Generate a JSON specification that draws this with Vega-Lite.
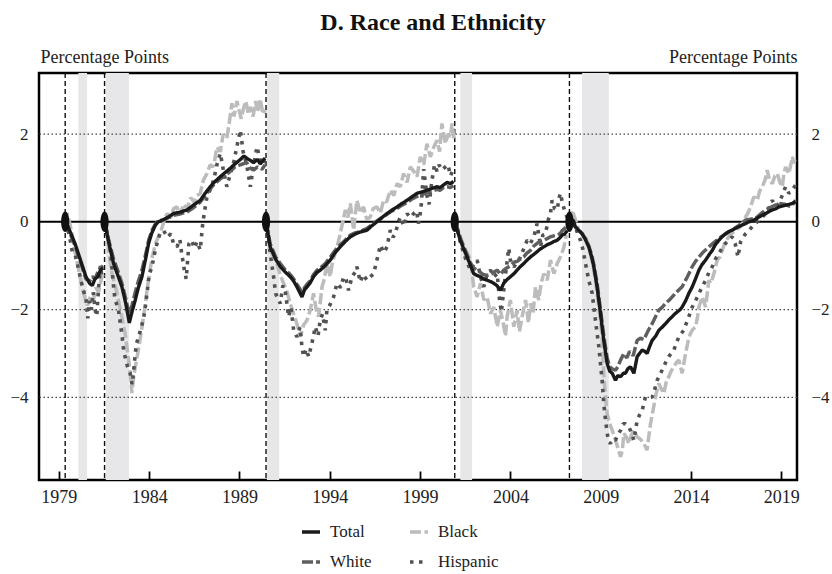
{
"$schema": "https://vega.github.io/schema/vega-lite/v6.json",
"width": 758, "height": 407,
"autosize": {"type": "none"},
"padding": {"left": 39, "top": 73, "right": 35, "bottom": 94},
"title": {"text": "D. Race and Ethnicity", "fontSize": 24, "fontWeight": "bold", "font": "Liberation Serif", "color": "#111", "anchor": "middle", "offset": 13, "dx": 15},
"config": {"font": "Liberation Serif", "view": {"stroke": "#000", "strokeWidth": 2.5},
 "axis": {"labelFont": "Liberation Serif", "titleFont": "Liberation Serif"},
 "axisX": {"ticks": true, "tickSize": -9, "tickWidth": 1.8, "tickColor": "#000", "labelPadding": 17, "zindex": 1},
 "legend": {"labelFont": "Liberation Serif", "titleFont": "Liberation Serif"}},
"datasets": {
"rec": [{"t":1980.08,"t2":1980.56},{"t":1981.6,"t2":1982.88},{"t":1990.52,"t2":1991.2},{"t":2001.23,"t2":2001.88},{"t":2007.97,"t2":2009.45}],
"peaks": [{"t":1979.35},{"t":1981.53},{"t":1990.47},{"t":2000.92},{"t":2007.27}],
"grid": [{"v":-4},{"v":-2},{"v":2}],
"zero": [{"v":0}],
"series": [
{"s":"Black","c":1,"t":1979.35,"v":0},{"s":"Black","c":1,"t":1979.45,"v":0.2},{"s":"Black","c":1,"t":1979.55,"v":0.05},{"s":"Black","c":1,"t":1979.7,"v":-0.2},{"s":"Black","c":1,"t":1979.85,"v":-0.6},{"s":"Black","c":1,"t":1980.0,"v":-0.9},{"s":"Black","c":1,"t":1980.15,"v":-1.2},{"s":"Black","c":1,"t":1980.3,"v":-1.5},{"s":"Black","c":1,"t":1980.45,"v":-1.75},{"s":"Black","c":1,"t":1980.6,"v":-1.9},{"s":"Black","c":1,"t":1980.75,"v":-1.7},{"s":"Black","c":1,"t":1980.9,"v":-1.8},{"s":"Black","c":1,"t":1981.05,"v":-1.5},{"s":"Black","c":1,"t":1981.2,"v":-1.6},{"s":"Black","c":1,"t":1981.35,"v":-1.3},{"s":"Black","c":1,"t":1981.45,"v":-1.2},
{"s":"Black","c":2,"t":1981.53,"v":0},{"s":"Black","c":2,"t":1981.6,"v":0.1},{"s":"Black","c":2,"t":1981.75,"v":-0.64},{"s":"Black","c":2,"t":1981.95,"v":-1.2},{"s":"Black","c":2,"t":1982.15,"v":-1.5},{"s":"Black","c":2,"t":1982.3,"v":-1.8},{"s":"Black","c":2,"t":1982.5,"v":-2.2},{"s":"Black","c":2,"t":1982.67,"v":-2.55},{"s":"Black","c":2,"t":1982.85,"v":-3.1},{"s":"Black","c":2,"t":1982.95,"v":-3.45},{"s":"Black","c":2,"t":1983.04,"v":-3.9},{"s":"Black","c":2,"t":1983.15,"v":-3.5},{"s":"Black","c":2,"t":1983.32,"v":-3.1},{"s":"Black","c":2,"t":1983.45,"v":-2.8},{"s":"Black","c":2,"t":1983.6,"v":-2.4},{"s":"Black","c":2,"t":1983.75,"v":-2.0},{"s":"Black","c":2,"t":1983.9,"v":-1.5},{"s":"Black","c":2,"t":1984.05,"v":-1.1},{"s":"Black","c":2,"t":1984.15,"v":-0.83},{"s":"Black","c":2,"t":1984.35,"v":-0.5},{"s":"Black","c":2,"t":1984.55,"v":-0.3},{"s":"Black","c":2,"t":1984.7,"v":-0.15},{"s":"Black","c":2,"t":1984.85,"v":0.05},{"s":"Black","c":2,"t":1985.0,"v":0.19},{"s":"Black","c":2,"t":1985.2,"v":0.1},{"s":"Black","c":2,"t":1985.35,"v":0.3},{"s":"Black","c":2,"t":1985.54,"v":0.34},{"s":"Black","c":2,"t":1985.7,"v":0.15},{"s":"Black","c":2,"t":1985.9,"v":0.4},{"s":"Black","c":2,"t":1986.1,"v":0.3},{"s":"Black","c":2,"t":1986.3,"v":0.55},{"s":"Black","c":2,"t":1986.5,"v":0.45},{"s":"Black","c":2,"t":1986.65,"v":0.6},{"s":"Black","c":2,"t":1986.83,"v":0.65},{"s":"Black","c":2,"t":1987.0,"v":0.95},{"s":"Black","c":2,"t":1987.2,"v":1.1},{"s":"Black","c":2,"t":1987.38,"v":1.3},{"s":"Black","c":2,"t":1987.57,"v":1.26},{"s":"Black","c":2,"t":1987.75,"v":1.7},{"s":"Black","c":2,"t":1987.94,"v":1.6},{"s":"Black","c":2,"t":1988.1,"v":2.0},{"s":"Black","c":2,"t":1988.3,"v":1.9},{"s":"Black","c":2,"t":1988.45,"v":2.3},{"s":"Black","c":2,"t":1988.58,"v":2.7},{"s":"Black","c":2,"t":1988.7,"v":2.4},{"s":"Black","c":2,"t":1988.86,"v":2.75},{"s":"Black","c":2,"t":1989.0,"v":2.5},{"s":"Black","c":2,"t":1989.1,"v":2.35},{"s":"Black","c":2,"t":1989.23,"v":2.6},{"s":"Black","c":2,"t":1989.35,"v":2.75},{"s":"Black","c":2,"t":1989.5,"v":2.45},{"s":"Black","c":2,"t":1989.6,"v":2.62},{"s":"Black","c":2,"t":1989.75,"v":2.4},{"s":"Black","c":2,"t":1989.9,"v":2.75},{"s":"Black","c":2,"t":1990.0,"v":2.5},{"s":"Black","c":2,"t":1990.15,"v":2.8},{"s":"Black","c":2,"t":1990.3,"v":2.45},{"s":"Black","c":2,"t":1990.42,"v":2.55},
{"s":"Black","c":3,"t":1990.47,"v":0},{"s":"Black","c":3,"t":1990.55,"v":-0.1},{"s":"Black","c":3,"t":1990.7,"v":-0.65},{"s":"Black","c":3,"t":1990.9,"v":-0.8},{"s":"Black","c":3,"t":1991.07,"v":-0.95},{"s":"Black","c":3,"t":1991.25,"v":-1.2},{"s":"Black","c":3,"t":1991.44,"v":-1.4},{"s":"Black","c":3,"t":1991.6,"v":-1.55},{"s":"Black","c":3,"t":1991.81,"v":-1.86},{"s":"Black","c":3,"t":1992.0,"v":-2.1},{"s":"Black","c":3,"t":1992.18,"v":-2.32},{"s":"Black","c":3,"t":1992.37,"v":-2.62},{"s":"Black","c":3,"t":1992.55,"v":-2.35},{"s":"Black","c":3,"t":1992.74,"v":-2.24},{"s":"Black","c":3,"t":1992.92,"v":-2.01},{"s":"Black","c":3,"t":1993.1,"v":-1.63},{"s":"Black","c":3,"t":1993.25,"v":-2.0},{"s":"Black","c":3,"t":1993.38,"v":-2.16},{"s":"Black","c":3,"t":1993.57,"v":-1.48},{"s":"Black","c":3,"t":1993.7,"v":-1.3},{"s":"Black","c":3,"t":1993.84,"v":-0.95},{"s":"Black","c":3,"t":1994.03,"v":-1.25},{"s":"Black","c":3,"t":1994.15,"v":-0.9},{"s":"Black","c":3,"t":1994.3,"v":-0.72},{"s":"Black","c":3,"t":1994.45,"v":-0.5},{"s":"Black","c":3,"t":1994.58,"v":-0.27},{"s":"Black","c":3,"t":1994.72,"v":0.0},{"s":"Black","c":3,"t":1994.86,"v":0.27},{"s":"Black","c":3,"t":1995.0,"v":0.1},{"s":"Black","c":3,"t":1995.14,"v":0.42},{"s":"Black","c":3,"t":1995.32,"v":-0.19},{"s":"Black","c":3,"t":1995.5,"v":0.49},{"s":"Black","c":3,"t":1995.7,"v":0.2},{"s":"Black","c":3,"t":1995.87,"v":0.34},{"s":"Black","c":3,"t":1996.05,"v":0.05},{"s":"Black","c":3,"t":1996.24,"v":0.11},{"s":"Black","c":3,"t":1996.4,"v":0.3},{"s":"Black","c":3,"t":1996.61,"v":0.34},{"s":"Black","c":3,"t":1996.8,"v":0.2},{"s":"Black","c":3,"t":1996.98,"v":0.49},{"s":"Black","c":3,"t":1997.15,"v":0.45},{"s":"Black","c":3,"t":1997.35,"v":0.72},{"s":"Black","c":3,"t":1997.55,"v":0.6},{"s":"Black","c":3,"t":1997.72,"v":0.87},{"s":"Black","c":3,"t":1997.9,"v":0.8},{"s":"Black","c":3,"t":1998.09,"v":1.1},{"s":"Black","c":3,"t":1998.28,"v":0.9},{"s":"Black","c":3,"t":1998.46,"v":1.25},{"s":"Black","c":3,"t":1998.65,"v":1.15},{"s":"Black","c":3,"t":1998.83,"v":1.03},{"s":"Black","c":3,"t":1999.01,"v":1.48},{"s":"Black","c":3,"t":1999.2,"v":1.3},{"s":"Black","c":3,"t":1999.38,"v":1.78},{"s":"Black","c":3,"t":1999.57,"v":1.48},{"s":"Black","c":3,"t":1999.75,"v":1.7},{"s":"Black","c":3,"t":1999.94,"v":1.86},{"s":"Black","c":3,"t":2000.08,"v":1.6},{"s":"Black","c":3,"t":2000.21,"v":2.24},{"s":"Black","c":3,"t":2000.4,"v":1.78},{"s":"Black","c":3,"t":2000.55,"v":2.0},{"s":"Black","c":3,"t":2000.68,"v":1.94},{"s":"Black","c":3,"t":2000.77,"v":2.24},{"s":"Black","c":3,"t":2000.88,"v":1.9},
{"s":"Black","c":4,"t":2000.92,"v":0},{"s":"Black","c":4,"t":2001.05,"v":-0.1},{"s":"Black","c":4,"t":2001.2,"v":-0.3},{"s":"Black","c":4,"t":2001.42,"v":-0.57},{"s":"Black","c":4,"t":2001.6,"v":-0.7},{"s":"Black","c":4,"t":2001.79,"v":-0.87},{"s":"Black","c":4,"t":2001.97,"v":-1.48},{"s":"Black","c":4,"t":2002.16,"v":-1.71},{"s":"Black","c":4,"t":2002.34,"v":-1.4},{"s":"Black","c":4,"t":2002.53,"v":-1.78},{"s":"Black","c":4,"t":2002.71,"v":-1.71},{"s":"Black","c":4,"t":2002.9,"v":-2.09},{"s":"Black","c":4,"t":2003.08,"v":-1.94},{"s":"Black","c":4,"t":2003.27,"v":-2.39},{"s":"Black","c":4,"t":2003.45,"v":-2.01},{"s":"Black","c":4,"t":2003.6,"v":-2.3},{"s":"Black","c":4,"t":2003.73,"v":-2.6},{"s":"Black","c":4,"t":2003.82,"v":-2.16},{"s":"Black","c":4,"t":2004.0,"v":-1.78},{"s":"Black","c":4,"t":2004.19,"v":-2.39},{"s":"Black","c":4,"t":2004.37,"v":-2.01},{"s":"Black","c":4,"t":2004.5,"v":-2.5},{"s":"Black","c":4,"t":2004.65,"v":-2.16},{"s":"Black","c":4,"t":2004.84,"v":-1.78},{"s":"Black","c":4,"t":2005.0,"v":-2.3},{"s":"Black","c":4,"t":2005.11,"v":-1.86},{"s":"Black","c":4,"t":2005.25,"v":-2.1},{"s":"Black","c":4,"t":2005.39,"v":-1.48},{"s":"Black","c":4,"t":2005.57,"v":-1.78},{"s":"Black","c":4,"t":2005.7,"v":-1.4},{"s":"Black","c":4,"t":2005.85,"v":-1.18},{"s":"Black","c":4,"t":2006.04,"v":-1.33},{"s":"Black","c":4,"t":2006.22,"v":-0.87},{"s":"Black","c":4,"t":2006.41,"v":-1.18},{"s":"Black","c":4,"t":2006.59,"v":-0.95},{"s":"Black","c":4,"t":2006.77,"v":-0.8},{"s":"Black","c":4,"t":2006.95,"v":-0.6},{"s":"Black","c":4,"t":2007.1,"v":-0.3},
{"s":"Black","c":5,"t":2007.27,"v":0},{"s":"Black","c":5,"t":2007.42,"v":0.27},{"s":"Black","c":5,"t":2007.6,"v":0.05},{"s":"Black","c":5,"t":2007.79,"v":-0.19},{"s":"Black","c":5,"t":2007.95,"v":-0.25},{"s":"Black","c":5,"t":2008.16,"v":-0.34},{"s":"Black","c":5,"t":2008.3,"v":-0.5},{"s":"Black","c":5,"t":2008.43,"v":-0.72},{"s":"Black","c":5,"t":2008.58,"v":-1.0},{"s":"Black","c":5,"t":2008.71,"v":-1.33},{"s":"Black","c":5,"t":2008.9,"v":-1.94},{"s":"Black","c":5,"t":2009.08,"v":-2.62},{"s":"Black","c":5,"t":2009.17,"v":-3.45},{"s":"Black","c":5,"t":2009.27,"v":-4.0},{"s":"Black","c":5,"t":2009.36,"v":-4.37},{"s":"Black","c":5,"t":2009.5,"v":-4.6},{"s":"Black","c":5,"t":2009.64,"v":-4.75},{"s":"Black","c":5,"t":2009.82,"v":-4.97},{"s":"Black","c":5,"t":2009.95,"v":-5.15},{"s":"Black","c":5,"t":2010.1,"v":-5.35},{"s":"Black","c":5,"t":2010.2,"v":-5.2},{"s":"Black","c":5,"t":2010.28,"v":-4.82},{"s":"Black","c":5,"t":2010.42,"v":-4.9},{"s":"Black","c":5,"t":2010.56,"v":-5.05},{"s":"Black","c":5,"t":2010.7,"v":-4.85},{"s":"Black","c":5,"t":2010.84,"v":-4.75},{"s":"Black","c":5,"t":2011.02,"v":-4.9},{"s":"Black","c":5,"t":2011.2,"v":-4.95},{"s":"Black","c":5,"t":2011.39,"v":-5.05},{"s":"Black","c":5,"t":2011.57,"v":-5.2},{"s":"Black","c":5,"t":2011.66,"v":-4.9},{"s":"Black","c":5,"t":2011.76,"v":-4.6},{"s":"Black","c":5,"t":2011.94,"v":-4.2},{"s":"Black","c":5,"t":2012.08,"v":-3.9},{"s":"Black","c":5,"t":2012.22,"v":-3.68},{"s":"Black","c":5,"t":2012.35,"v":-3.8},{"s":"Black","c":5,"t":2012.5,"v":-3.91},{"s":"Black","c":5,"t":2012.65,"v":-3.6},{"s":"Black","c":5,"t":2012.77,"v":-3.53},{"s":"Black","c":5,"t":2012.9,"v":-3.4},{"s":"Black","c":5,"t":2013.05,"v":-3.3},{"s":"Black","c":5,"t":2013.2,"v":-3.2},{"s":"Black","c":5,"t":2013.33,"v":-3.15},{"s":"Black","c":5,"t":2013.51,"v":-3.45},{"s":"Black","c":5,"t":2013.7,"v":-3.0},{"s":"Black","c":5,"t":2013.85,"v":-2.7},{"s":"Black","c":5,"t":2013.97,"v":-2.54},{"s":"Black","c":5,"t":2014.1,"v":-2.45},{"s":"Black","c":5,"t":2014.25,"v":-2.39},{"s":"Black","c":5,"t":2014.35,"v":-2.2},{"s":"Black","c":5,"t":2014.44,"v":-1.94},{"s":"Black","c":5,"t":2014.62,"v":-1.71},{"s":"Black","c":5,"t":2014.81,"v":-1.94},{"s":"Black","c":5,"t":2014.99,"v":-1.33},{"s":"Black","c":5,"t":2015.1,"v":-1.4},{"s":"Black","c":5,"t":2015.27,"v":-1.18},{"s":"Black","c":5,"t":2015.45,"v":-0.87},{"s":"Black","c":5,"t":2015.6,"v":-0.8},{"s":"Black","c":5,"t":2015.73,"v":-0.65},{"s":"Black","c":5,"t":2015.9,"v":-0.45},{"s":"Black","c":5,"t":2016.1,"v":-0.34},{"s":"Black","c":5,"t":2016.3,"v":-0.25},{"s":"Black","c":5,"t":2016.47,"v":-0.19},{"s":"Black","c":5,"t":2016.6,"v":-0.15},{"s":"Black","c":5,"t":2016.74,"v":-0.11},{"s":"Black","c":5,"t":2016.9,"v":0.0},{"s":"Black","c":5,"t":2017.02,"v":0.11},{"s":"Black","c":5,"t":2017.15,"v":0.2},{"s":"Black","c":5,"t":2017.3,"v":0.34},{"s":"Black","c":5,"t":2017.48,"v":0.57},{"s":"Black","c":5,"t":2017.67,"v":0.49},{"s":"Black","c":5,"t":2017.8,"v":0.7},{"s":"Black","c":5,"t":2017.95,"v":0.8},{"s":"Black","c":5,"t":2018.1,"v":0.95},{"s":"Black","c":5,"t":2018.22,"v":1.18},{"s":"Black","c":5,"t":2018.35,"v":0.95},{"s":"Black","c":5,"t":2018.5,"v":0.87},{"s":"Black","c":5,"t":2018.65,"v":1.05},{"s":"Black","c":5,"t":2018.78,"v":1.1},{"s":"Black","c":5,"t":2018.92,"v":0.9},{"s":"Black","c":5,"t":2019.05,"v":0.8},{"s":"Black","c":5,"t":2019.15,"v":1.1},{"s":"Black","c":5,"t":2019.24,"v":1.25},{"s":"Black","c":5,"t":2019.42,"v":1.1},{"s":"Black","c":5,"t":2019.55,"v":1.35},{"s":"Black","c":5,"t":2019.61,"v":1.48},{"s":"Black","c":5,"t":2019.7,"v":1.33},{"s":"Black","c":5,"t":2019.8,"v":1.5},
{"s":"Hispanic","c":1,"t":1979.35,"v":0},{"s":"Hispanic","c":1,"t":1979.45,"v":-0.1},{"s":"Hispanic","c":1,"t":1979.6,"v":-0.35},{"s":"Hispanic","c":1,"t":1979.75,"v":-0.7},{"s":"Hispanic","c":1,"t":1979.9,"v":-0.75},{"s":"Hispanic","c":1,"t":1980.05,"v":-1.0},{"s":"Hispanic","c":1,"t":1980.2,"v":-1.3},{"s":"Hispanic","c":1,"t":1980.35,"v":-1.55},{"s":"Hispanic","c":1,"t":1980.5,"v":-1.75},{"s":"Hispanic","c":1,"t":1980.6,"v":-2.2},{"s":"Hispanic","c":1,"t":1980.7,"v":-1.8},{"s":"Hispanic","c":1,"t":1980.8,"v":-2.0},{"s":"Hispanic","c":1,"t":1980.9,"v":-1.6},{"s":"Hispanic","c":1,"t":1981.0,"v":-2.0},{"s":"Hispanic","c":1,"t":1981.1,"v":-2.15},{"s":"Hispanic","c":1,"t":1981.2,"v":-1.5},{"s":"Hispanic","c":1,"t":1981.3,"v":-1.0},{"s":"Hispanic","c":1,"t":1981.4,"v":-1.3},
{"s":"Hispanic","c":2,"t":1981.53,"v":0},{"s":"Hispanic","c":2,"t":1981.6,"v":-0.11},{"s":"Hispanic","c":2,"t":1981.85,"v":-0.64},{"s":"Hispanic","c":2,"t":1982.03,"v":-1.48},{"s":"Hispanic","c":2,"t":1982.1,"v":-1.75},{"s":"Hispanic","c":2,"t":1982.3,"v":-2.0},{"s":"Hispanic","c":2,"t":1982.5,"v":-2.6},{"s":"Hispanic","c":2,"t":1982.6,"v":-2.96},{"s":"Hispanic","c":2,"t":1982.8,"v":-3.3},{"s":"Hispanic","c":2,"t":1982.95,"v":-3.45},{"s":"Hispanic","c":2,"t":1983.05,"v":-3.7},{"s":"Hispanic","c":2,"t":1983.13,"v":-3.45},{"s":"Hispanic","c":2,"t":1983.23,"v":-3.0},{"s":"Hispanic","c":2,"t":1983.3,"v":-2.77},{"s":"Hispanic","c":2,"t":1983.5,"v":-2.5},{"s":"Hispanic","c":2,"t":1983.69,"v":-2.2},{"s":"Hispanic","c":2,"t":1983.8,"v":-1.9},{"s":"Hispanic","c":2,"t":1983.9,"v":-1.55},{"s":"Hispanic","c":2,"t":1984.0,"v":-1.2},{"s":"Hispanic","c":2,"t":1984.15,"v":-1.03},{"s":"Hispanic","c":2,"t":1984.34,"v":-0.64},{"s":"Hispanic","c":2,"t":1984.5,"v":-0.4},{"s":"Hispanic","c":2,"t":1984.6,"v":-0.27},{"s":"Hispanic","c":2,"t":1984.8,"v":-0.2},{"s":"Hispanic","c":2,"t":1985.0,"v":-0.35},{"s":"Hispanic","c":2,"t":1985.2,"v":-0.27},{"s":"Hispanic","c":2,"t":1985.35,"v":-0.5},{"s":"Hispanic","c":2,"t":1985.54,"v":-0.57},{"s":"Hispanic","c":2,"t":1985.7,"v":-0.4},{"s":"Hispanic","c":2,"t":1985.8,"v":-0.72},{"s":"Hispanic","c":2,"t":1985.95,"v":-1.1},{"s":"Hispanic","c":2,"t":1986.05,"v":-1.3},{"s":"Hispanic","c":2,"t":1986.2,"v":-0.5},{"s":"Hispanic","c":2,"t":1986.35,"v":-0.42},{"s":"Hispanic","c":2,"t":1986.5,"v":-0.6},{"s":"Hispanic","c":2,"t":1986.65,"v":-0.45},{"s":"Hispanic","c":2,"t":1986.83,"v":-0.64},{"s":"Hispanic","c":2,"t":1986.95,"v":-0.1},{"s":"Hispanic","c":2,"t":1987.05,"v":0.2},{"s":"Hispanic","c":2,"t":1987.2,"v":0.57},{"s":"Hispanic","c":2,"t":1987.4,"v":0.75},{"s":"Hispanic","c":2,"t":1987.57,"v":0.95},{"s":"Hispanic","c":2,"t":1987.75,"v":1.3},{"s":"Hispanic","c":2,"t":1987.94,"v":1.56},{"s":"Hispanic","c":2,"t":1988.1,"v":1.2},{"s":"Hispanic","c":2,"t":1988.3,"v":0.8},{"s":"Hispanic","c":2,"t":1988.5,"v":1.1},{"s":"Hispanic","c":2,"t":1988.67,"v":1.33},{"s":"Hispanic","c":2,"t":1988.85,"v":1.7},{"s":"Hispanic","c":2,"t":1989.05,"v":2.09},{"s":"Hispanic","c":2,"t":1989.2,"v":1.6},{"s":"Hispanic","c":2,"t":1989.4,"v":1.3},{"s":"Hispanic","c":2,"t":1989.6,"v":0.8},{"s":"Hispanic","c":2,"t":1989.75,"v":1.2},{"s":"Hispanic","c":2,"t":1989.97,"v":1.71},{"s":"Hispanic","c":2,"t":1990.15,"v":1.4},{"s":"Hispanic","c":2,"t":1990.3,"v":1.3},{"s":"Hispanic","c":2,"t":1990.42,"v":1.5},
{"s":"Hispanic","c":3,"t":1990.47,"v":0},{"s":"Hispanic","c":3,"t":1990.55,"v":-0.2},{"s":"Hispanic","c":3,"t":1990.7,"v":-0.72},{"s":"Hispanic","c":3,"t":1990.89,"v":-1.25},{"s":"Hispanic","c":3,"t":1991.0,"v":-1.63},{"s":"Hispanic","c":3,"t":1991.26,"v":-1.86},{"s":"Hispanic","c":3,"t":1991.4,"v":-1.45},{"s":"Hispanic","c":3,"t":1991.53,"v":-1.56},{"s":"Hispanic","c":3,"t":1991.72,"v":-2.16},{"s":"Hispanic","c":3,"t":1991.85,"v":-1.95},{"s":"Hispanic","c":3,"t":1992.0,"v":-2.47},{"s":"Hispanic","c":3,"t":1992.18,"v":-2.62},{"s":"Hispanic","c":3,"t":1992.35,"v":-2.4},{"s":"Hispanic","c":3,"t":1992.46,"v":-2.85},{"s":"Hispanic","c":3,"t":1992.55,"v":-3.07},{"s":"Hispanic","c":3,"t":1992.7,"v":-2.9},{"s":"Hispanic","c":3,"t":1992.83,"v":-3.07},{"s":"Hispanic","c":3,"t":1993.01,"v":-2.77},{"s":"Hispanic","c":3,"t":1993.2,"v":-2.39},{"s":"Hispanic","c":3,"t":1993.35,"v":-2.6},{"s":"Hispanic","c":3,"t":1993.47,"v":-2.24},{"s":"Hispanic","c":3,"t":1993.6,"v":-2.1},{"s":"Hispanic","c":3,"t":1993.75,"v":-2.47},{"s":"Hispanic","c":3,"t":1993.84,"v":-2.01},{"s":"Hispanic","c":3,"t":1994.0,"v":-1.9},{"s":"Hispanic","c":3,"t":1994.21,"v":-1.71},{"s":"Hispanic","c":3,"t":1994.4,"v":-1.4},{"s":"Hispanic","c":3,"t":1994.6,"v":-1.5},{"s":"Hispanic","c":3,"t":1994.77,"v":-1.25},{"s":"Hispanic","c":3,"t":1994.9,"v":-1.3},{"s":"Hispanic","c":3,"t":1995.04,"v":-1.56},{"s":"Hispanic","c":3,"t":1995.23,"v":-1.25},{"s":"Hispanic","c":3,"t":1995.4,"v":-1.15},{"s":"Hispanic","c":3,"t":1995.5,"v":-1.02},{"s":"Hispanic","c":3,"t":1995.69,"v":-1.37},{"s":"Hispanic","c":3,"t":1995.85,"v":-1.2},{"s":"Hispanic","c":3,"t":1996.06,"v":-1.33},{"s":"Hispanic","c":3,"t":1996.25,"v":-1.25},{"s":"Hispanic","c":3,"t":1996.43,"v":-1.18},{"s":"Hispanic","c":3,"t":1996.61,"v":-0.87},{"s":"Hispanic","c":3,"t":1996.8,"v":-0.53},{"s":"Hispanic","c":3,"t":1997.0,"v":-0.7},{"s":"Hispanic","c":3,"t":1997.17,"v":-0.57},{"s":"Hispanic","c":3,"t":1997.35,"v":-0.19},{"s":"Hispanic","c":3,"t":1997.5,"v":-0.35},{"s":"Hispanic","c":3,"t":1997.63,"v":-0.27},{"s":"Hispanic","c":3,"t":1997.8,"v":0.0},{"s":"Hispanic","c":3,"t":1997.91,"v":0.11},{"s":"Hispanic","c":3,"t":1998.1,"v":-0.1},{"s":"Hispanic","c":3,"t":1998.28,"v":0.19},{"s":"Hispanic","c":3,"t":1998.45,"v":0.1},{"s":"Hispanic","c":3,"t":1998.65,"v":0.19},{"s":"Hispanic","c":3,"t":1998.8,"v":0.25},{"s":"Hispanic","c":3,"t":1998.92,"v":-0.04},{"s":"Hispanic","c":3,"t":1999.05,"v":0.3},{"s":"Hispanic","c":3,"t":1999.2,"v":1.2},{"s":"Hispanic","c":3,"t":1999.38,"v":0.6},{"s":"Hispanic","c":3,"t":1999.5,"v":0.4},{"s":"Hispanic","c":3,"t":1999.66,"v":0.95},{"s":"Hispanic","c":3,"t":1999.8,"v":1.3},{"s":"Hispanic","c":3,"t":1999.94,"v":1.15},{"s":"Hispanic","c":3,"t":2000.05,"v":1.3},{"s":"Hispanic","c":3,"t":2000.21,"v":1.18},{"s":"Hispanic","c":3,"t":2000.4,"v":1.25},{"s":"Hispanic","c":3,"t":2000.55,"v":1.3},{"s":"Hispanic","c":3,"t":2000.68,"v":1.05},{"s":"Hispanic","c":3,"t":2000.85,"v":1.2},
{"s":"Hispanic","c":4,"t":2000.92,"v":0},{"s":"Hispanic","c":4,"t":2001.05,"v":-0.1},{"s":"Hispanic","c":4,"t":2001.2,"v":-0.42},{"s":"Hispanic","c":4,"t":2001.42,"v":-0.72},{"s":"Hispanic","c":4,"t":2001.55,"v":-0.87},{"s":"Hispanic","c":4,"t":2001.79,"v":-1.1},{"s":"Hispanic","c":4,"t":2002.0,"v":-0.95},{"s":"Hispanic","c":4,"t":2002.16,"v":-0.87},{"s":"Hispanic","c":4,"t":2002.34,"v":-1.25},{"s":"Hispanic","c":4,"t":2002.53,"v":-1.48},{"s":"Hispanic","c":4,"t":2002.7,"v":-1.2},{"s":"Hispanic","c":4,"t":2002.9,"v":-1.1},{"s":"Hispanic","c":4,"t":2003.1,"v":-1.25},{"s":"Hispanic","c":4,"t":2003.27,"v":-1.18},{"s":"Hispanic","c":4,"t":2003.4,"v":-1.78},{"s":"Hispanic","c":4,"t":2003.5,"v":-2.05},{"s":"Hispanic","c":4,"t":2003.7,"v":-1.3},{"s":"Hispanic","c":4,"t":2003.91,"v":-0.6},{"s":"Hispanic","c":4,"t":2004.0,"v":-0.87},{"s":"Hispanic","c":4,"t":2004.19,"v":-1.03},{"s":"Hispanic","c":4,"t":2004.4,"v":-0.9},{"s":"Hispanic","c":4,"t":2004.56,"v":-0.8},{"s":"Hispanic","c":4,"t":2004.75,"v":-0.6},{"s":"Hispanic","c":4,"t":2004.93,"v":-0.42},{"s":"Hispanic","c":4,"t":2005.1,"v":-0.5},{"s":"Hispanic","c":4,"t":2005.3,"v":-0.34},{"s":"Hispanic","c":4,"t":2005.48,"v":-0.04},{"s":"Hispanic","c":4,"t":2005.67,"v":-0.57},{"s":"Hispanic","c":4,"t":2005.8,"v":-0.3},{"s":"Hispanic","c":4,"t":2005.94,"v":-0.27},{"s":"Hispanic","c":4,"t":2006.1,"v":0.05},{"s":"Hispanic","c":4,"t":2006.22,"v":0.19},{"s":"Hispanic","c":4,"t":2006.31,"v":0.49},{"s":"Hispanic","c":4,"t":2006.45,"v":0.3},{"s":"Hispanic","c":4,"t":2006.59,"v":0.27},{"s":"Hispanic","c":4,"t":2006.7,"v":0.55},{"s":"Hispanic","c":4,"t":2006.77,"v":0.65},{"s":"Hispanic","c":4,"t":2006.9,"v":0.4},{"s":"Hispanic","c":4,"t":2007.05,"v":0.19},{"s":"Hispanic","c":4,"t":2007.15,"v":0.1},
{"s":"Hispanic","c":5,"t":2007.27,"v":0},{"s":"Hispanic","c":5,"t":2007.45,"v":0.1},{"s":"Hispanic","c":5,"t":2007.6,"v":-0.11},{"s":"Hispanic","c":5,"t":2007.75,"v":-0.3},{"s":"Hispanic","c":5,"t":2007.88,"v":-0.42},{"s":"Hispanic","c":5,"t":2008.0,"v":-0.6},{"s":"Hispanic","c":5,"t":2008.16,"v":-0.95},{"s":"Hispanic","c":5,"t":2008.34,"v":-1.33},{"s":"Hispanic","c":5,"t":2008.53,"v":-1.63},{"s":"Hispanic","c":5,"t":2008.71,"v":-2.24},{"s":"Hispanic","c":5,"t":2008.9,"v":-2.85},{"s":"Hispanic","c":5,"t":2009.08,"v":-3.61},{"s":"Hispanic","c":5,"t":2009.17,"v":-4.14},{"s":"Hispanic","c":5,"t":2009.27,"v":-4.52},{"s":"Hispanic","c":5,"t":2009.36,"v":-4.82},{"s":"Hispanic","c":5,"t":2009.45,"v":-5.0},{"s":"Hispanic","c":5,"t":2009.54,"v":-5.05},{"s":"Hispanic","c":5,"t":2009.65,"v":-4.95},{"s":"Hispanic","c":5,"t":2009.82,"v":-4.97},{"s":"Hispanic","c":5,"t":2009.95,"v":-4.85},{"s":"Hispanic","c":5,"t":2010.1,"v":-4.75},{"s":"Hispanic","c":5,"t":2010.25,"v":-4.6},{"s":"Hispanic","c":5,"t":2010.37,"v":-4.6},{"s":"Hispanic","c":5,"t":2010.56,"v":-4.67},{"s":"Hispanic","c":5,"t":2010.7,"v":-4.8},{"s":"Hispanic","c":5,"t":2010.84,"v":-4.97},{"s":"Hispanic","c":5,"t":2011.02,"v":-4.52},{"s":"Hispanic","c":5,"t":2011.15,"v":-4.4},{"s":"Hispanic","c":5,"t":2011.3,"v":-4.29},{"s":"Hispanic","c":5,"t":2011.48,"v":-3.99},{"s":"Hispanic","c":5,"t":2011.65,"v":-4.0},{"s":"Hispanic","c":5,"t":2011.85,"v":-3.99},{"s":"Hispanic","c":5,"t":2012.0,"v":-3.8},{"s":"Hispanic","c":5,"t":2012.13,"v":-3.61},{"s":"Hispanic","c":5,"t":2012.25,"v":-3.5},{"s":"Hispanic","c":5,"t":2012.4,"v":-3.38},{"s":"Hispanic","c":5,"t":2012.6,"v":-3.2},{"s":"Hispanic","c":5,"t":2012.77,"v":-3.07},{"s":"Hispanic","c":5,"t":2012.9,"v":-3.0},{"s":"Hispanic","c":5,"t":2013.05,"v":-2.92},{"s":"Hispanic","c":5,"t":2013.2,"v":-2.75},{"s":"Hispanic","c":5,"t":2013.33,"v":-2.62},{"s":"Hispanic","c":5,"t":2013.45,"v":-2.55},{"s":"Hispanic","c":5,"t":2013.6,"v":-2.47},{"s":"Hispanic","c":5,"t":2013.75,"v":-2.3},{"s":"Hispanic","c":5,"t":2013.88,"v":-2.16},{"s":"Hispanic","c":5,"t":2014.07,"v":-1.94},{"s":"Hispanic","c":5,"t":2014.25,"v":-1.8},{"s":"Hispanic","c":5,"t":2014.44,"v":-1.63},{"s":"Hispanic","c":5,"t":2014.6,"v":-1.5},{"s":"Hispanic","c":5,"t":2014.81,"v":-1.33},{"s":"Hispanic","c":5,"t":2015.0,"v":-1.15},{"s":"Hispanic","c":5,"t":2015.18,"v":-1.02},{"s":"Hispanic","c":5,"t":2015.35,"v":-0.85},{"s":"Hispanic","c":5,"t":2015.54,"v":-0.72},{"s":"Hispanic","c":5,"t":2015.72,"v":-0.6},{"s":"Hispanic","c":5,"t":2015.91,"v":-0.49},{"s":"Hispanic","c":5,"t":2016.1,"v":-0.42},{"s":"Hispanic","c":5,"t":2016.28,"v":-0.34},{"s":"Hispanic","c":5,"t":2016.45,"v":-0.5},{"s":"Hispanic","c":5,"t":2016.6,"v":-0.8},{"s":"Hispanic","c":5,"t":2016.75,"v":-0.45},{"s":"Hispanic","c":5,"t":2017.02,"v":-0.27},{"s":"Hispanic","c":5,"t":2017.2,"v":-0.2},{"s":"Hispanic","c":5,"t":2017.39,"v":-0.11},{"s":"Hispanic","c":5,"t":2017.55,"v":-0.05},{"s":"Hispanic","c":5,"t":2017.76,"v":0.04},{"s":"Hispanic","c":5,"t":2017.95,"v":0.1},{"s":"Hispanic","c":5,"t":2018.13,"v":0.19},{"s":"Hispanic","c":5,"t":2018.3,"v":0.3},{"s":"Hispanic","c":5,"t":2018.5,"v":0.49},{"s":"Hispanic","c":5,"t":2018.7,"v":0.35},{"s":"Hispanic","c":5,"t":2018.87,"v":0.42},{"s":"Hispanic","c":5,"t":2019.05,"v":0.6},{"s":"Hispanic","c":5,"t":2019.24,"v":0.8},{"s":"Hispanic","c":5,"t":2019.42,"v":0.65},{"s":"Hispanic","c":5,"t":2019.61,"v":0.72},{"s":"Hispanic","c":5,"t":2019.79,"v":0.84},
{"s":"White","c":1,"t":1979.35,"v":0},{"s":"White","c":1,"t":1979.5,"v":-0.15},{"s":"White","c":1,"t":1979.7,"v":-0.35},{"s":"White","c":1,"t":1979.9,"v":-0.55},{"s":"White","c":1,"t":1980.1,"v":-0.8},{"s":"White","c":1,"t":1980.3,"v":-1.05},{"s":"White","c":1,"t":1980.5,"v":-1.3},{"s":"White","c":1,"t":1980.7,"v":-1.35},{"s":"White","c":1,"t":1980.85,"v":-1.25},{"s":"White","c":1,"t":1981.0,"v":-1.3},{"s":"White","c":1,"t":1981.15,"v":-1.15},{"s":"White","c":1,"t":1981.3,"v":-1.05},{"s":"White","c":1,"t":1981.45,"v":-1.0},
{"s":"White","c":2,"t":1981.53,"v":0},{"s":"White","c":2,"t":1981.75,"v":-0.4},{"s":"White","c":2,"t":1982.03,"v":-0.85},{"s":"White","c":2,"t":1982.25,"v":-1.1},{"s":"White","c":2,"t":1982.49,"v":-1.4},{"s":"White","c":2,"t":1982.7,"v":-1.75},{"s":"White","c":2,"t":1982.9,"v":-2.1},{"s":"White","c":2,"t":1983.05,"v":-1.9},{"s":"White","c":2,"t":1983.23,"v":-1.6},{"s":"White","c":2,"t":1983.4,"v":-1.35},{"s":"White","c":2,"t":1983.6,"v":-1.1},{"s":"White","c":2,"t":1983.8,"v":-0.75},{"s":"White","c":2,"t":1983.97,"v":-0.42},{"s":"White","c":2,"t":1984.15,"v":-0.2},{"s":"White","c":2,"t":1984.34,"v":-0.05},{"s":"White","c":2,"t":1984.5,"v":0.02},{"s":"White","c":2,"t":1984.8,"v":0.05},{"s":"White","c":2,"t":1985.1,"v":0.1},{"s":"White","c":2,"t":1985.35,"v":0.15},{"s":"White","c":2,"t":1985.7,"v":0.18},{"s":"White","c":2,"t":1986.09,"v":0.22},{"s":"White","c":2,"t":1986.45,"v":0.32},{"s":"White","c":2,"t":1986.83,"v":0.45},{"s":"White","c":2,"t":1987.1,"v":0.6},{"s":"White","c":2,"t":1987.38,"v":0.75},{"s":"White","c":2,"t":1987.65,"v":0.88},{"s":"White","c":2,"t":1987.94,"v":0.98},{"s":"White","c":2,"t":1988.2,"v":1.05},{"s":"White","c":2,"t":1988.49,"v":1.15},{"s":"White","c":2,"t":1988.75,"v":1.25},{"s":"White","c":2,"t":1989.05,"v":1.3},{"s":"White","c":2,"t":1989.4,"v":1.35},{"s":"White","c":2,"t":1989.6,"v":1.22},{"s":"White","c":2,"t":1989.78,"v":1.18},{"s":"White","c":2,"t":1990.0,"v":1.25},{"s":"White","c":2,"t":1990.25,"v":1.2},{"s":"White","c":2,"t":1990.42,"v":1.3},
{"s":"White","c":3,"t":1990.47,"v":0},{"s":"White","c":3,"t":1990.7,"v":-0.5},{"s":"White","c":3,"t":1991.0,"v":-0.8},{"s":"White","c":3,"t":1991.26,"v":-0.95},{"s":"White","c":3,"t":1991.55,"v":-1.1},{"s":"White","c":3,"t":1991.81,"v":-1.2},{"s":"White","c":3,"t":1992.0,"v":-1.3},{"s":"White","c":3,"t":1992.18,"v":-1.42},{"s":"White","c":3,"t":1992.46,"v":-1.6},{"s":"White","c":3,"t":1992.6,"v":-1.5},{"s":"White","c":3,"t":1992.74,"v":-1.42},{"s":"White","c":3,"t":1992.9,"v":-1.35},{"s":"White","c":3,"t":1993.1,"v":-1.2},{"s":"White","c":3,"t":1993.3,"v":-1.1},{"s":"White","c":3,"t":1993.47,"v":-1.05},{"s":"White","c":3,"t":1993.75,"v":-0.95},{"s":"White","c":3,"t":1994.03,"v":-0.8},{"s":"White","c":3,"t":1994.3,"v":-0.65},{"s":"White","c":3,"t":1994.58,"v":-0.52},{"s":"White","c":3,"t":1994.85,"v":-0.42},{"s":"White","c":3,"t":1995.14,"v":-0.3},{"s":"White","c":3,"t":1995.4,"v":-0.25},{"s":"White","c":3,"t":1995.69,"v":-0.22},{"s":"White","c":3,"t":1996.06,"v":-0.15},{"s":"White","c":3,"t":1996.3,"v":-0.08},{"s":"White","c":3,"t":1996.61,"v":0.02},{"s":"White","c":3,"t":1996.9,"v":0.1},{"s":"White","c":3,"t":1997.17,"v":0.17},{"s":"White","c":3,"t":1997.45,"v":0.25},{"s":"White","c":3,"t":1997.72,"v":0.3},{"s":"White","c":3,"t":1998.0,"v":0.38},{"s":"White","c":3,"t":1998.28,"v":0.44},{"s":"White","c":3,"t":1998.55,"v":0.52},{"s":"White","c":3,"t":1998.83,"v":0.58},{"s":"White","c":3,"t":1999.1,"v":0.62},{"s":"White","c":3,"t":1999.38,"v":0.66},{"s":"White","c":3,"t":1999.65,"v":0.7},{"s":"White","c":3,"t":1999.94,"v":0.74},{"s":"White","c":3,"t":2000.1,"v":0.72},{"s":"White","c":3,"t":2000.3,"v":0.78},{"s":"White","c":3,"t":2000.5,"v":0.8},{"s":"White","c":3,"t":2000.68,"v":0.78},{"s":"White","c":3,"t":2000.85,"v":0.82},
{"s":"White","c":4,"t":2000.92,"v":0},{"s":"White","c":4,"t":2001.1,"v":-0.2},{"s":"White","c":4,"t":2001.23,"v":-0.38},{"s":"White","c":4,"t":2001.4,"v":-0.55},{"s":"White","c":4,"t":2001.6,"v":-0.75},{"s":"White","c":4,"t":2001.8,"v":-0.95},{"s":"White","c":4,"t":2001.97,"v":-1.05},{"s":"White","c":4,"t":2002.15,"v":-1.1},{"s":"White","c":4,"t":2002.34,"v":-1.15},{"s":"White","c":4,"t":2002.5,"v":-1.2},{"s":"White","c":4,"t":2002.71,"v":-1.22},{"s":"White","c":4,"t":2002.9,"v":-1.2},{"s":"White","c":4,"t":2003.08,"v":-1.15},{"s":"White","c":4,"t":2003.27,"v":-1.1},{"s":"White","c":4,"t":2003.45,"v":-1.2},{"s":"White","c":4,"t":2003.63,"v":-1.1},{"s":"White","c":4,"t":2003.8,"v":-1.05},{"s":"White","c":4,"t":2004.0,"v":-1.0},{"s":"White","c":4,"t":2004.2,"v":-0.92},{"s":"White","c":4,"t":2004.37,"v":-0.9},{"s":"White","c":4,"t":2004.55,"v":-0.85},{"s":"White","c":4,"t":2004.74,"v":-0.8},{"s":"White","c":4,"t":2004.9,"v":-0.72},{"s":"White","c":4,"t":2005.11,"v":-0.65},{"s":"White","c":4,"t":2005.3,"v":-0.55},{"s":"White","c":4,"t":2005.48,"v":-0.49},{"s":"White","c":4,"t":2005.65,"v":-0.45},{"s":"White","c":4,"t":2005.85,"v":-0.42},{"s":"White","c":4,"t":2006.05,"v":-0.38},{"s":"White","c":4,"t":2006.22,"v":-0.34},{"s":"White","c":4,"t":2006.4,"v":-0.32},{"s":"White","c":4,"t":2006.59,"v":-0.3},{"s":"White","c":4,"t":2006.75,"v":-0.27},{"s":"White","c":4,"t":2006.87,"v":-0.2},{"s":"White","c":4,"t":2007.0,"v":-0.15},{"s":"White","c":4,"t":2007.15,"v":-0.1},
{"s":"White","c":5,"t":2007.27,"v":0},{"s":"White","c":5,"t":2007.45,"v":-0.05},{"s":"White","c":5,"t":2007.6,"v":-0.12},{"s":"White","c":5,"t":2007.8,"v":-0.2},{"s":"White","c":5,"t":2007.97,"v":-0.27},{"s":"White","c":5,"t":2008.15,"v":-0.38},{"s":"White","c":5,"t":2008.34,"v":-0.55},{"s":"White","c":5,"t":2008.5,"v":-0.75},{"s":"White","c":5,"t":2008.62,"v":-0.98},{"s":"White","c":5,"t":2008.8,"v":-1.4},{"s":"White","c":5,"t":2008.99,"v":-2.0},{"s":"White","c":5,"t":2009.17,"v":-2.6},{"s":"White","c":5,"t":2009.36,"v":-3.1},{"s":"White","c":5,"t":2009.5,"v":-3.3},{"s":"White","c":5,"t":2009.64,"v":-3.35},{"s":"White","c":5,"t":2009.82,"v":-3.38},{"s":"White","c":5,"t":2009.95,"v":-3.3},{"s":"White","c":5,"t":2010.1,"v":-3.15},{"s":"White","c":5,"t":2010.28,"v":-3.0},{"s":"White","c":5,"t":2010.45,"v":-3.1},{"s":"White","c":5,"t":2010.6,"v":-2.95},{"s":"White","c":5,"t":2010.8,"v":-3.05},{"s":"White","c":5,"t":2011.02,"v":-2.7},{"s":"White","c":5,"t":2011.2,"v":-2.65},{"s":"White","c":5,"t":2011.4,"v":-2.68},{"s":"White","c":5,"t":2011.6,"v":-2.5},{"s":"White","c":5,"t":2011.85,"v":-2.32},{"s":"White","c":5,"t":2012.05,"v":-2.15},{"s":"White","c":5,"t":2012.22,"v":-2.01},{"s":"White","c":5,"t":2012.4,"v":-1.95},{"s":"White","c":5,"t":2012.59,"v":-1.86},{"s":"White","c":5,"t":2012.8,"v":-1.78},{"s":"White","c":5,"t":2012.96,"v":-1.71},{"s":"White","c":5,"t":2013.2,"v":-1.6},{"s":"White","c":5,"t":2013.51,"v":-1.48},{"s":"White","c":5,"t":2013.8,"v":-1.25},{"s":"White","c":5,"t":2014.07,"v":-1.02},{"s":"White","c":5,"t":2014.25,"v":-0.9},{"s":"White","c":5,"t":2014.44,"v":-0.8},{"s":"White","c":5,"t":2014.7,"v":-0.68},{"s":"White","c":5,"t":2014.99,"v":-0.57},{"s":"White","c":5,"t":2015.25,"v":-0.48},{"s":"White","c":5,"t":2015.54,"v":-0.38},{"s":"White","c":5,"t":2015.9,"v":-0.28},{"s":"White","c":5,"t":2016.28,"v":-0.19},{"s":"White","c":5,"t":2016.65,"v":-0.08},{"s":"White","c":5,"t":2017.02,"v":0.04},{"s":"White","c":5,"t":2017.3,"v":0.06},{"s":"White","c":5,"t":2017.58,"v":0.08},{"s":"White","c":5,"t":2017.85,"v":0.18},{"s":"White","c":5,"t":2018.13,"v":0.27},{"s":"White","c":5,"t":2018.5,"v":0.35},{"s":"White","c":5,"t":2018.87,"v":0.42},{"s":"White","c":5,"t":2019.2,"v":0.4},{"s":"White","c":5,"t":2019.45,"v":0.36},{"s":"White","c":5,"t":2019.61,"v":0.38},{"s":"White","c":5,"t":2019.79,"v":0.49},
{"s":"Total","c":1,"t":1979.35,"v":0},{"s":"Total","c":1,"t":1979.5,"v":-0.1},{"s":"Total","c":1,"t":1979.7,"v":-0.3},{"s":"Total","c":1,"t":1979.9,"v":-0.5},{"s":"Total","c":1,"t":1980.1,"v":-0.75},{"s":"Total","c":1,"t":1980.3,"v":-1.0},{"s":"Total","c":1,"t":1980.5,"v":-1.25},{"s":"Total","c":1,"t":1980.7,"v":-1.4},{"s":"Total","c":1,"t":1980.85,"v":-1.45},{"s":"Total","c":1,"t":1981.0,"v":-1.3},{"s":"Total","c":1,"t":1981.15,"v":-1.25},{"s":"Total","c":1,"t":1981.3,"v":-1.1},{"s":"Total","c":1,"t":1981.45,"v":-1.05},
{"s":"Total","c":2,"t":1981.53,"v":0},{"s":"Total","c":2,"t":1981.75,"v":-0.45},{"s":"Total","c":2,"t":1982.03,"v":-0.95},{"s":"Total","c":2,"t":1982.25,"v":-1.2},{"s":"Total","c":2,"t":1982.49,"v":-1.48},{"s":"Total","c":2,"t":1982.7,"v":-1.85},{"s":"Total","c":2,"t":1982.9,"v":-2.3},{"s":"Total","c":2,"t":1983.05,"v":-2.05},{"s":"Total","c":2,"t":1983.23,"v":-1.78},{"s":"Total","c":2,"t":1983.4,"v":-1.5},{"s":"Total","c":2,"t":1983.6,"v":-1.25},{"s":"Total","c":2,"t":1983.8,"v":-0.85},{"s":"Total","c":2,"t":1983.97,"v":-0.49},{"s":"Total","c":2,"t":1984.15,"v":-0.25},{"s":"Total","c":2,"t":1984.34,"v":-0.08},{"s":"Total","c":2,"t":1984.5,"v":0.0},{"s":"Total","c":2,"t":1984.8,"v":0.05},{"s":"Total","c":2,"t":1985.1,"v":0.12},{"s":"Total","c":2,"t":1985.35,"v":0.19},{"s":"Total","c":2,"t":1985.7,"v":0.22},{"s":"Total","c":2,"t":1986.09,"v":0.27},{"s":"Total","c":2,"t":1986.45,"v":0.38},{"s":"Total","c":2,"t":1986.83,"v":0.49},{"s":"Total","c":2,"t":1987.1,"v":0.65},{"s":"Total","c":2,"t":1987.38,"v":0.8},{"s":"Total","c":2,"t":1987.65,"v":0.92},{"s":"Total","c":2,"t":1987.94,"v":1.03},{"s":"Total","c":2,"t":1988.2,"v":1.12},{"s":"Total","c":2,"t":1988.49,"v":1.22},{"s":"Total","c":2,"t":1988.75,"v":1.32},{"s":"Total","c":2,"t":1989.05,"v":1.42},{"s":"Total","c":2,"t":1989.25,"v":1.5},{"s":"Total","c":2,"t":1989.4,"v":1.45},{"s":"Total","c":2,"t":1989.6,"v":1.4},{"s":"Total","c":2,"t":1989.78,"v":1.35},{"s":"Total","c":2,"t":1990.0,"v":1.42},{"s":"Total","c":2,"t":1990.15,"v":1.32},{"s":"Total","c":2,"t":1990.3,"v":1.4},{"s":"Total","c":2,"t":1990.42,"v":1.45},
{"s":"Total","c":3,"t":1990.47,"v":0},{"s":"Total","c":3,"t":1990.7,"v":-0.57},{"s":"Total","c":3,"t":1991.0,"v":-0.85},{"s":"Total","c":3,"t":1991.26,"v":-1.02},{"s":"Total","c":3,"t":1991.55,"v":-1.15},{"s":"Total","c":3,"t":1991.81,"v":-1.25},{"s":"Total","c":3,"t":1992.0,"v":-1.35},{"s":"Total","c":3,"t":1992.18,"v":-1.48},{"s":"Total","c":3,"t":1992.46,"v":-1.71},{"s":"Total","c":3,"t":1992.6,"v":-1.55},{"s":"Total","c":3,"t":1992.74,"v":-1.48},{"s":"Total","c":3,"t":1992.9,"v":-1.4},{"s":"Total","c":3,"t":1993.1,"v":-1.25},{"s":"Total","c":3,"t":1993.3,"v":-1.15},{"s":"Total","c":3,"t":1993.47,"v":-1.1},{"s":"Total","c":3,"t":1993.75,"v":-1.0},{"s":"Total","c":3,"t":1994.03,"v":-0.87},{"s":"Total","c":3,"t":1994.3,"v":-0.7},{"s":"Total","c":3,"t":1994.58,"v":-0.57},{"s":"Total","c":3,"t":1994.85,"v":-0.45},{"s":"Total","c":3,"t":1995.14,"v":-0.34},{"s":"Total","c":3,"t":1995.4,"v":-0.28},{"s":"Total","c":3,"t":1995.69,"v":-0.23},{"s":"Total","c":3,"t":1996.06,"v":-0.19},{"s":"Total","c":3,"t":1996.3,"v":-0.1},{"s":"Total","c":3,"t":1996.61,"v":0.0},{"s":"Total","c":3,"t":1996.9,"v":0.1},{"s":"Total","c":3,"t":1997.17,"v":0.19},{"s":"Total","c":3,"t":1997.45,"v":0.27},{"s":"Total","c":3,"t":1997.72,"v":0.34},{"s":"Total","c":3,"t":1998.0,"v":0.42},{"s":"Total","c":3,"t":1998.28,"v":0.49},{"s":"Total","c":3,"t":1998.55,"v":0.57},{"s":"Total","c":3,"t":1998.83,"v":0.65},{"s":"Total","c":3,"t":1999.1,"v":0.68},{"s":"Total","c":3,"t":1999.38,"v":0.72},{"s":"Total","c":3,"t":1999.65,"v":0.76},{"s":"Total","c":3,"t":1999.94,"v":0.8},{"s":"Total","c":3,"t":2000.1,"v":0.78},{"s":"Total","c":3,"t":2000.3,"v":0.84},{"s":"Total","c":3,"t":2000.5,"v":0.9},{"s":"Total","c":3,"t":2000.68,"v":0.87},{"s":"Total","c":3,"t":2000.85,"v":0.92},
{"s":"Total","c":4,"t":2000.92,"v":0},{"s":"Total","c":4,"t":2001.1,"v":-0.25},{"s":"Total","c":4,"t":2001.23,"v":-0.42},{"s":"Total","c":4,"t":2001.4,"v":-0.6},{"s":"Total","c":4,"t":2001.6,"v":-0.8},{"s":"Total","c":4,"t":2001.8,"v":-1.0},{"s":"Total","c":4,"t":2001.97,"v":-1.18},{"s":"Total","c":4,"t":2002.15,"v":-1.22},{"s":"Total","c":4,"t":2002.34,"v":-1.25},{"s":"Total","c":4,"t":2002.5,"v":-1.3},{"s":"Total","c":4,"t":2002.71,"v":-1.33},{"s":"Total","c":4,"t":2002.9,"v":-1.36},{"s":"Total","c":4,"t":2003.08,"v":-1.4},{"s":"Total","c":4,"t":2003.25,"v":-1.45},{"s":"Total","c":4,"t":2003.45,"v":-1.56},{"s":"Total","c":4,"t":2003.63,"v":-1.4},{"s":"Total","c":4,"t":2003.8,"v":-1.32},{"s":"Total","c":4,"t":2004.0,"v":-1.25},{"s":"Total","c":4,"t":2004.2,"v":-1.18},{"s":"Total","c":4,"t":2004.37,"v":-1.1},{"s":"Total","c":4,"t":2004.55,"v":-1.02},{"s":"Total","c":4,"t":2004.74,"v":-0.95},{"s":"Total","c":4,"t":2004.9,"v":-0.88},{"s":"Total","c":4,"t":2005.11,"v":-0.8},{"s":"Total","c":4,"t":2005.3,"v":-0.74},{"s":"Total","c":4,"t":2005.48,"v":-0.68},{"s":"Total","c":4,"t":2005.65,"v":-0.62},{"s":"Total","c":4,"t":2005.85,"v":-0.57},{"s":"Total","c":4,"t":2006.05,"v":-0.52},{"s":"Total","c":4,"t":2006.22,"v":-0.49},{"s":"Total","c":4,"t":2006.4,"v":-0.45},{"s":"Total","c":4,"t":2006.59,"v":-0.42},{"s":"Total","c":4,"t":2006.75,"v":-0.36},{"s":"Total","c":4,"t":2006.87,"v":-0.3},{"s":"Total","c":4,"t":2007.0,"v":-0.28},{"s":"Total","c":4,"t":2007.15,"v":-0.2},
{"s":"Total","c":5,"t":2007.27,"v":0},{"s":"Total","c":5,"t":2007.45,"v":0.05},{"s":"Total","c":5,"t":2007.6,"v":-0.11},{"s":"Total","c":5,"t":2007.8,"v":-0.2},{"s":"Total","c":5,"t":2007.97,"v":-0.27},{"s":"Total","c":5,"t":2008.15,"v":-0.4},{"s":"Total","c":5,"t":2008.34,"v":-0.57},{"s":"Total","c":5,"t":2008.5,"v":-0.8},{"s":"Total","c":5,"t":2008.62,"v":-1.02},{"s":"Total","c":5,"t":2008.8,"v":-1.48},{"s":"Total","c":5,"t":2008.99,"v":-2.09},{"s":"Total","c":5,"t":2009.17,"v":-2.7},{"s":"Total","c":5,"t":2009.36,"v":-3.23},{"s":"Total","c":5,"t":2009.5,"v":-3.4},{"s":"Total","c":5,"t":2009.64,"v":-3.45},{"s":"Total","c":5,"t":2009.82,"v":-3.61},{"s":"Total","c":5,"t":2009.95,"v":-3.5},{"s":"Total","c":5,"t":2010.1,"v":-3.53},{"s":"Total","c":5,"t":2010.25,"v":-3.45},{"s":"Total","c":5,"t":2010.37,"v":-3.45},{"s":"Total","c":5,"t":2010.5,"v":-3.35},{"s":"Total","c":5,"t":2010.65,"v":-3.3},{"s":"Total","c":5,"t":2010.84,"v":-3.45},{"s":"Total","c":5,"t":2011.02,"v":-3.07},{"s":"Total","c":5,"t":2011.15,"v":-3.0},{"s":"Total","c":5,"t":2011.3,"v":-2.92},{"s":"Total","c":5,"t":2011.45,"v":-2.95},{"s":"Total","c":5,"t":2011.57,"v":-3.0},{"s":"Total","c":5,"t":2011.7,"v":-2.85},{"s":"Total","c":5,"t":2011.85,"v":-2.7},{"s":"Total","c":5,"t":2012.05,"v":-2.6},{"s":"Total","c":5,"t":2012.22,"v":-2.47},{"s":"Total","c":5,"t":2012.4,"v":-2.4},{"s":"Total","c":5,"t":2012.59,"v":-2.32},{"s":"Total","c":5,"t":2012.8,"v":-2.22},{"s":"Total","c":5,"t":2012.96,"v":-2.16},{"s":"Total","c":5,"t":2013.1,"v":-2.1},{"s":"Total","c":5,"t":2013.24,"v":-2.05},{"s":"Total","c":5,"t":2013.4,"v":-2.0},{"s":"Total","c":5,"t":2013.51,"v":-1.94},{"s":"Total","c":5,"t":2013.7,"v":-1.8},{"s":"Total","c":5,"t":2013.88,"v":-1.63},{"s":"Total","c":5,"t":2014.07,"v":-1.48},{"s":"Total","c":5,"t":2014.25,"v":-1.3},{"s":"Total","c":5,"t":2014.44,"v":-1.1},{"s":"Total","c":5,"t":2014.6,"v":-0.98},{"s":"Total","c":5,"t":2014.81,"v":-0.87},{"s":"Total","c":5,"t":2015.0,"v":-0.75},{"s":"Total","c":5,"t":2015.18,"v":-0.65},{"s":"Total","c":5,"t":2015.35,"v":-0.52},{"s":"Total","c":5,"t":2015.54,"v":-0.42},{"s":"Total","c":5,"t":2015.72,"v":-0.34},{"s":"Total","c":5,"t":2015.91,"v":-0.27},{"s":"Total","c":5,"t":2016.1,"v":-0.22},{"s":"Total","c":5,"t":2016.28,"v":-0.19},{"s":"Total","c":5,"t":2016.45,"v":-0.15},{"s":"Total","c":5,"t":2016.65,"v":-0.11},{"s":"Total","c":5,"t":2016.85,"v":-0.07},{"s":"Total","c":5,"t":2017.02,"v":-0.04},{"s":"Total","c":5,"t":2017.2,"v":0.0},{"s":"Total","c":5,"t":2017.39,"v":0.02},{"s":"Total","c":5,"t":2017.58,"v":0.06},{"s":"Total","c":5,"t":2017.76,"v":0.11},{"s":"Total","c":5,"t":2017.95,"v":0.15},{"s":"Total","c":5,"t":2018.13,"v":0.19},{"s":"Total","c":5,"t":2018.3,"v":0.23},{"s":"Total","c":5,"t":2018.5,"v":0.27},{"s":"Total","c":5,"t":2018.7,"v":0.3},{"s":"Total","c":5,"t":2018.87,"v":0.34},{"s":"Total","c":5,"t":2019.05,"v":0.36},{"s":"Total","c":5,"t":2019.24,"v":0.38},{"s":"Total","c":5,"t":2019.42,"v":0.4},{"s":"Total","c":5,"t":2019.61,"v":0.42},{"s":"Total","c":5,"t":2019.79,"v":0.46}
]
},
"resolve": {"axis": {"y": "independent"}},
"layer": [
{"data": {"name": "rec"}, "mark": {"type": "rect", "color": "#e7e7e9"},
 "encoding": {
  "x": {"field": "t", "type": "quantitative", "scale": {"domain": [1977.9, 2019.87], "nice": false, "zero": false},
   "axis": {"orient": "bottom", "values": [1979,1984,1989,1994,1999,2004,2009,2014,2019], "format": "d", "title": null, "grid": false, "domain": false, "labelFlush": false, "labelFontSize": 18, "labelColor": "#222", "labelFont": "Liberation Serif"}},
  "x2": {"field": "t2"}}},
{"data": {"name": "grid"}, "mark": {"type": "rule", "color": "#444", "strokeWidth": 1.2, "strokeDash": [1.5, 2.5]},
 "encoding": {
  "y": {"field": "v", "type": "quantitative", "scale": {"domain": [-5.88, 3.39], "nice": false, "zero": false},
   "axis": {"orient": "left", "values": [-4,-2,0,2], "title": "Percentage Points", "titleAngle": 0, "titleAlign": "left", "titleBaseline": "alphabetic", "titleX": 1, "titleY": -11,
    "titleFontSize": 18, "titleFontWeight": "normal", "titleColor": "#222", "titleFont": "Liberation Serif",
    "ticks": false, "domain": false, "grid": false, "labelPadding": 11, "labelFontSize": 17, "labelColor": "#222", "labelFont": "Liberation Serif"}}}},
{"data": {"name": "peaks"}, "mark": {"type": "rule", "color": "#111", "strokeWidth": 1.4, "strokeDash": [5, 3]},
 "encoding": {"x": {"field": "t", "type": "quantitative", "scale": {"domain": [1977.9, 2019.87], "nice": false, "zero": false},
   "axis": {"orient": "bottom", "values": [1979,1984,1989,1994,1999,2004,2009,2014,2019], "format": "d", "title": null, "grid": false, "domain": false, "labelFlush": false, "labelFontSize": 18, "labelColor": "#222", "labelFont": "Liberation Serif"}}}},
{"data": {"name": "zero"}, "mark": {"type": "rule", "color": "#000", "strokeWidth": 2},
 "encoding": {
  "y": {"field": "v", "type": "quantitative", "scale": {"domain": [-5.88, 3.39], "nice": false, "zero": false},
   "axis": {"orient": "right", "values": [-4,-2,0,2], "title": "Percentage Points", "titleAngle": 0, "titleAlign": "right", "titleBaseline": "alphabetic", "titleX": 0, "titleY": -11,
    "titleFontSize": 18, "titleFontWeight": "normal", "titleColor": "#222", "titleFont": "Liberation Serif",
    "ticks": false, "domain": false, "grid": false, "labelPadding": 14, "labelFontSize": 17, "labelColor": "#222", "labelFont": "Liberation Serif"}}}},
{"data": {"name": "series"}, "mark": {"type": "line", "strokeCap": "butt", "strokeJoin": "bevel"},
 "encoding": {
  "x": {"field": "t", "type": "quantitative", "scale": {"domain": [1977.9, 2019.87], "nice": false, "zero": false},
   "axis": {"orient": "bottom", "values": [1979,1984,1989,1994,1999,2004,2009,2014,2019], "format": "d", "title": null, "grid": false, "domain": false, "labelFlush": false, "labelFontSize": 18, "labelColor": "#222", "labelFont": "Liberation Serif"}},
  "y": {"field": "v", "type": "quantitative", "scale": {"domain": [-5.88, 3.39], "nice": false, "zero": false}, "axis": null},
  "detail": {"field": "c", "type": "nominal"},
  "color": {"field": "s", "type": "nominal", "scale": {"domain": ["Total","White","Black","Hispanic"], "range": ["#1a1a1a","#5f5f5f","#bcbcbc","#525252"]},
   "legend": {"orient": "none", "legendX": 261, "legendY": 448, "columns": 2, "title": null, "symbolType": "stroke", "symbolSize": 324, "labelFontSize": 17, "labelFont": "Liberation Serif", "labelColor": "#222", "labelOffset": 8, "columnPadding": 30, "rowPadding": 11}},
  "strokeDash": {"field": "s", "type": "nominal", "scale": {"domain": ["Total","White","Black","Hispanic"], "range": [[1,0],[11,3],[11,3.5],[3.5,5.5]]},
   "legend": {"orient": "none", "legendX": 261, "legendY": 448, "columns": 2, "title": null, "symbolType": "stroke", "symbolSize": 324, "labelFontSize": 17, "labelFont": "Liberation Serif", "labelColor": "#222", "labelOffset": 8, "columnPadding": 30, "rowPadding": 11}},
  "strokeWidth": {"field": "s", "type": "nominal", "scale": {"domain": ["Total","White","Black","Hispanic"], "range": [3.4, 3.6, 3.6, 3.8]},
   "legend": {"orient": "none", "legendX": 261, "legendY": 448, "columns": 2, "title": null, "symbolType": "stroke", "symbolSize": 324, "labelFontSize": 17, "labelFont": "Liberation Serif", "labelColor": "#222", "labelOffset": 8, "columnPadding": 30, "rowPadding": 11}}}},
{"data": {"name": "peaks"}, "mark": {"type": "point", "shape": "M0,-1A0.4,1,0,1,1,0,1A0.4,1,0,1,1,0,-1Z", "filled": true, "color": "#111", "size": 420, "opacity": 1},
 "encoding": {
  "x": {"field": "t", "type": "quantitative", "scale": {"domain": [1977.9, 2019.87], "nice": false, "zero": false},
   "axis": {"orient": "bottom", "values": [1979,1984,1989,1994,1999,2004,2009,2014,2019], "format": "d", "title": null, "grid": false, "domain": false, "labelFlush": false, "labelFontSize": 18, "labelColor": "#222", "labelFont": "Liberation Serif"}},
  "y": {"datum": 0, "type": "quantitative", "scale": {"domain": [-5.88, 3.39], "nice": false, "zero": false}, "axis": null}}}
]
}
